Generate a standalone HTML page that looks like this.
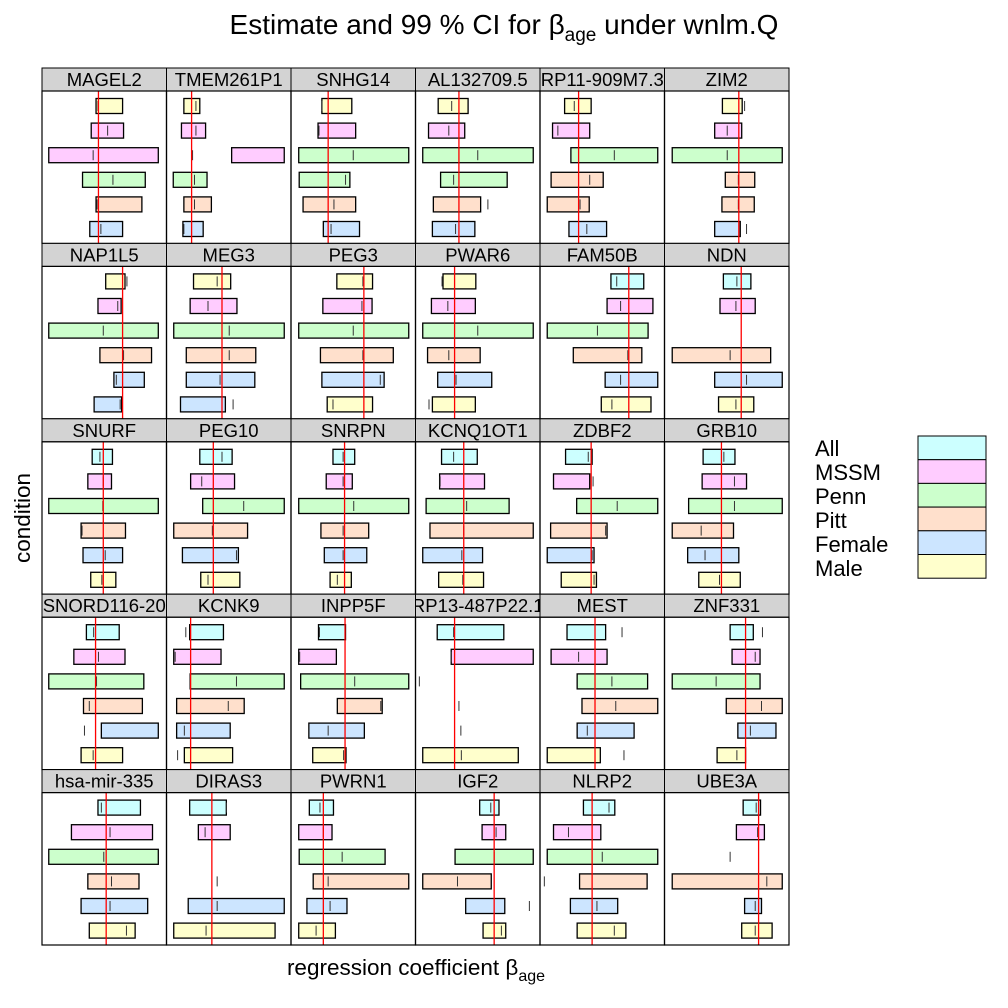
<!DOCTYPE html>
<html><head><meta charset="utf-8"><style>
body{margin:0;background:#fff;}
svg{display:block;font-family:"Liberation Sans",sans-serif;}
</style></head><body>
<svg id="chart" width="1008" height="1008"></svg>
<script>
const genes = ["MAGEL2","TMEM261P1","SNHG14","AL132709.5","RP11-909M7.3","ZIM2",
"NAP1L5","MEG3","PEG3","PWAR6","FAM50B","NDN",
"SNURF","PEG10","SNRPN","KCNQ1OT1","ZDBF2","GRB10",
"SNORD116-20","KCNK9","INPP5F","RP13-487P22.1","MEST","ZNF331",
"hsa-mir-335","DIRAS3","PWRN1","IGF2","NLRP2","UBE3A"];
const refLine = [117,52,77,90,80,154, 167,115,151,81,184,159, 127,97,111,100,106,118, 111,50,112,81,114,168, 133,94,67,163,108,195];
// per panel: six bars top to bottom, [lo, hi] (null = no bar)
const lows = [
[112,102,14,84,112,99],[36,31,135,14,36,34],[64,56,16,17,25,67],[47,27,15,52,37,35],[51,26,64,23,15,60],[120,104,16,126,119,104],
[132,116,14,120,149,108],[56,49,15,41,41,29],[95,66,16,61,64,75],[57,33,15,25,46,35],[147,139,15,69,135,127],[122,115,null,16,104,112],
[104,95,14,81,85,101],[69,50,75,15,33,71],[87,73,16,62,69,81],[54,50,22,30,15,48],[53,28,76,22,15,44],[80,78,50,16,48,71],
[92,66,14,86,123,81],[48,15,49,21,21,37],[57,16,20,96,37,45],[45,74,null,null,null,15],[56,23,77,87,77,15],[136,140,16,128,152,109],
[116,61,14,95,81,98],[48,66,null,null,45,15],[38,16,17,46,33,16],[133,138,82,15,104,140],[90,28,15,82,63,77],[163,149,null,16,166,160]];
const highs = [
[167,169,241,214,207,167],[69,81,244,84,93,76],[126,134,244,122,134,142],[109,102,244,190,135,123],[106,103,244,131,102,138],[161,160,244,187,186,157],
[172,164,241,227,212,165],[133,146,244,185,183,122],[169,168,244,212,193,169],[125,124,244,134,158,124],[215,234,224,211,244,230],[179,188,null,220,244,185],
[146,144,241,173,167,153],[136,141,244,168,149,152],[132,127,244,161,157,125],[128,143,194,244,139,141],[108,103,244,139,112,117],[146,170,244,143,154,157],
[160,172,211,208,241,167],[118,113,244,161,132,137],[113,94,244,189,152,114],[183,244,null,null,null,213],[136,139,223,244,195,125],[184,198,198,244,231,168],
[204,229,241,201,219,193],[124,132,null,null,244,225],[88,85,195,244,116,92],[173,187,244,157,185,187],[155,126,244,222,161,178],[199,207,null,244,201,223]];
const estimates = [
[116,136,106,147,114,122],[61,61,54,58,58,36],[64,58,129,113,89,83],[75,69,129,79,150,83],[71,37,154,103,83,97],[166,130,130,153,153,170],
[176,157,127,169,154,162],[105,86,130,130,111,138],[149,147,129,149,185,87],[55,67,129,69,84,28],[159,167,119,182,167,149],[150,148,null,136,170,148],
[120,127,126,83,131,124],[115,73,160,95,145,86],[108,108,130,108,108,96],[79,51,106,100,96,98],[100,110,160,136,108,112],[123,145,145,76,84,114],
[107,117,113,98,88,106],[40,18,145,128,37,23],[59,18,132,186,77,109],[79,74,8,90,94,95],[170,80,149,157,98,174],[203,188,107,201,178,150],
[123,141,128,144,141,175],[124,80,null,105,105,82],[60,67,106,77,81,52],[156,167,163,87,236,178],[143,59,129,9,118,154],[190,193,136,212,188,188]];
const colorCodes = ["YPPGOB","YPPGOB","YPGGOB","YPGGOB","YPGOOB","YPGOOB",
"YPGOBB","YPGOBB","YPGOBY","YPGOBY","CPGOBY","CPGOBY",
"CPGOBY","CPGOBY","CPGOBY","CPGOBY","CPGOBY","CPGOBY",
"CPGOBY","CPGOBY","CPGOBY","CPGOBY","CPGOBY","CPGOBY",
"CPGOBY","CPGOBY","CPGOBY","CPGOBY","CPGOBY","CPGOBY"];
const legendLabels = ["All","MSSM","Penn","Pitt","Female","Male"];

const palette = {C:"#ccffff",P:"#ffccff",G:"#ccffcc",O:"#ffe0cc",B:"#cce5ff",Y:"#ffffcc"};
const NS="http://www.w3.org/2000/svg";
const svg=document.getElementById('chart');
function mk(tag,attrs,parent){const e=document.createElementNS(NS,tag);for(const k in attrs)e.setAttribute(k,attrs[k]);(parent||svg).appendChild(e);return e;}
const colX=[42,166.5,291,415.5,540,664.5,789];
const rowTop=[68,243.4,418.8,594.2,769.6];
const stripH=23, rowH=175.4, dom=258;
function xs(c,v){return colX[c]+v/dom*(colX[c+1]-colX[c]);}
function ys(r,i){return rowTop[r]+stripH+15+i*24.6;}

genes.forEach((g,p)=>{
  const r=Math.floor(p/6), c=p%6;
  const grp=mk('g',{});
  
  
  const x0=colX[c], w=colX[c+1]-colX[c], y0=rowTop[r];
  const strip=mk('rect',{x:x0,y:y0,width:w,height:stripH,fill:"#d3d3d3",stroke:"#000","stroke-width":1},grp);
  
  
  const cp=mk('clipPath',{id:'cp'+p},grp);
  mk('rect',{x:x0,y:y0,width:w,height:stripH},cp);
  const st=mk('text',{x:x0+w/2,y:y0+18,"text-anchor":"middle","font-size":18.5,"clip-path":"url(#cp"+p+")"},grp);
  st.textContent=g;
  
  
  for(let i=0;i<6;i++){
    const y=ys(r,i);
    if(lows[p][i]!==null){
      const b=mk('rect',{x:xs(c,lows[p][i]),y:y-7.5,width:xs(c,highs[p][i])-xs(c,lows[p][i]),height:15,fill:palette[colorCodes[p][i]],stroke:"#000","stroke-width":1.3},grp);
      
      
    }
    if(estimates[p][i]!==null){
      const ex=xs(c,estimates[p][i]);
      const t=mk('line',{x1:ex,x2:ex,y1:y-5,y2:y+5,stroke:"#333","stroke-width":1},grp);
      
      
    }
  }
  const rx=xs(c,refLine[p]);
  const rl=mk('line',{x1:rx,x2:rx,y1:y0+stripH,y2:y0+rowH,stroke:"#ff0000","stroke-width":1.3},grp);
  
  
  const fr=mk('rect',{x:x0,y:y0+stripH,width:w,height:rowH-stripH,fill:"none",stroke:"#000","stroke-width":1.2},grp);
  
  
});

const title=mk('text',{x:504,y:34,"text-anchor":"middle","font-size":28});
title.innerHTML='Estimate and 99 % CI for β<tspan font-size="19" dy="7">age</tspan><tspan dy="-7"> under wnlm.Q</tspan>';


const xl=mk('text',{x:416,y:975,"text-anchor":"middle","font-size":22.5});
xl.innerHTML='regression coefficient β<tspan font-size="16" dy="6">age</tspan>';


const yl=mk('text',{x:30,y:518,"text-anchor":"middle","font-size":22.5,transform:"rotate(-90 30 518)"});
yl.textContent='condition';



const lc=["C","P","G","O","B","Y"];
legendLabels.forEach((l,i)=>{
  const t=mk('text',{x:815,y:456+i*24,"font-size":22});
  t.textContent=l;
  
  
  const b=mk('rect',{x:918,y:436+i*23.7,width:68,height:23.7,fill:palette[lc[i]],stroke:"#000","stroke-width":1});
  
  
});
</script>
</body></html>
